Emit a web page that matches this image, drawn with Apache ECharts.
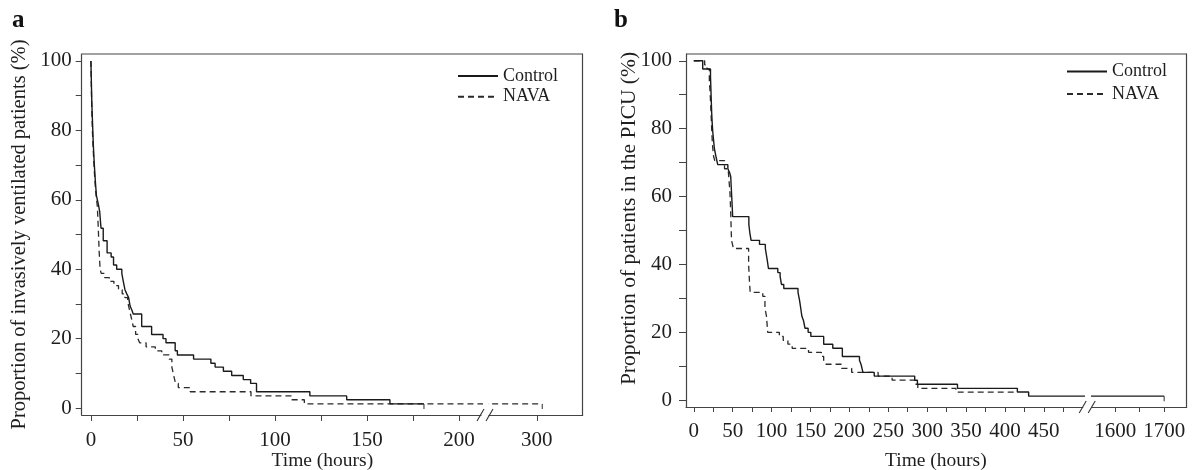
<!DOCTYPE html>
<html>
<head>
<meta charset="utf-8">
<script src="https://cdn.jsdelivr.net/npm/echarts@6/dist/echarts.min.js"></script>
<style>html,body{margin:0;padding:0;background:#fff}#c{width:1192px;height:470px}</style>
</head>
<body>
<div id="c"></div>
<script>
// ---------- data (hours, % remaining) ----------
const ctrlA_t = [0,0.5,0.9,1.3,1.8,2.5,3.0,4.0,4.8,5.5,6.7,8.8,11.0,12.3,14.0,16.8,17.6,18.5,19.5,20.5,21.3,22.3,23.0,27.6,33.0,39.2,40.8,45.8,47.0,55.8,65.2,67.5,72.0,76.5,82.8,86.8,90.0,119.0,139.0,162.5,181.0];
const ctrlA_v = [100,88,82,76,70.6,64.7,61.2,58.8,56.5,51.8,48.2,44.7,43.5,41.2,40.0,38.8,36.5,34.1,32.9,31.8,29.4,28.2,27.1,23.5,21.2,20.0,18.8,16.5,15.3,14.1,12.9,11.8,10.6,9.4,8.2,7.1,4.7,3.5,2.4,1.2,1.2];
const navaA_t = [0,0.4,0.8,1.3,2.0,2.6,3.5,4.0,4.5,5.0,5.6,7.5,10.0,12.5,15.0,17.0,18.5,20.0,21.0,22.0,23.0,24.3,25.5,26.5,30.0,35.0,38.5,42.5,44.0,45.0,46.0,47.5,54.0,87.0,109.0,116.0,303.0];
const navaA_v = [100,88,80,74,67,62.4,58,52,45,40,38.8,37.6,36.5,35.3,34.1,32.9,31.8,30.6,28.2,25.9,23.5,21.2,20.0,18.8,17.6,16.5,15.3,14.1,11.8,9.4,7.1,5.9,4.7,3.5,2.4,1.2,1.2];

const ctrlB_t = [0,11.5,21.5,22,22.5,23,23.8,24.5,25.5,26.5,28.5,30.8,43.8,46,47.5,48.5,49.3,50,70.8,72,73.7,84.5,92,94.5,96,108,111,112.7,115.7,134,136,137.5,139,141,143,147,150.5,167,178.7,191,213,215,217.5,232,284,287.5,339,416,430.5,1700];
const ctrlB_v = [100,97.6,95.3,91.8,88.2,84.7,81.2,78.8,76.5,74.1,71.8,69.4,68.2,67.1,65.9,61.2,57.6,54.1,51.8,49.4,47.1,45.9,44.7,41.2,38.8,37.6,36.5,34.1,32.9,31.8,29.4,27.1,24.7,23.5,21.2,20.0,18.8,16.5,15.3,12.9,11.8,10.6,8.2,7.1,5.9,4.7,3.5,2.4,1.2,1.2];
const navaB_t = [0,14,17,20,21,22,23,24,25.5,27,39.5,44.5,46.5,47.5,48.5,51,70.5,71.5,72.5,88.7,91.5,93.5,95,110,115,121,126.5,147.5,164,167,169,190,203,237,255,284,288,337,416];
const navaB_v = [100,98.8,97.6,94.1,90.6,85.9,80.0,75.3,71.8,70.6,68.2,67.1,61.2,55.3,47.1,44.7,40.0,35.3,31.8,30.6,27.1,24.7,20.0,18.8,17.6,16.5,15.3,14.1,12.9,11.8,10.6,9.4,8.2,7.1,5.9,4.7,3.5,2.4,2.4];

// ---------- tick labels ----------
const yLabels = [0,20,40,60,80,100];
const yTicks = [0,10,20,30,40,50,60,70,80,90,100];
const xLabelsA1 = [0,50,100,150,200];
const xTicksA1 = [0,25,50,75,100,125,150,175,200];
const xLabelsA2 = [300];
const xTicksA2 = [300];
const xLabelsB1 = [0,50,100,150,200,250,300,350,400,450];
const xTicksB1 = [0,25,50,75,100,125,150,175,200,225,250,275,300,325,350,375,400,425,450,475];
const xLabelsB2 = [1600,1700];
const xTicksB2 = [1600,1650,1700];

// ---------- layout ----------
const FONT = '"Liberation Serif","Times New Roman",serif';
const TXT = '#1e1e1e';
const AX = '#444';
const A = {x1L:81.7, x1R:481, x2L:489, x2R:582.7, top:54, bottom:415, r1:[-5,212], r2:[274,325], lm:15, ng:36};
const B = {x1L:686, x1R:1082.7, x2L:1091.7, x2R:1186.7, top:54, bottom:407, r1:[-10,500], r2:[1552,1746], lm:14, ng:44};
const Y_RANGE = [-2,102];

const zip = (t, v) => t.map((x, i) => [x, v[i]]);
const last = (t, v) => [t[t.length - 1], v[v.length - 1]];
const plain = v => String(v);

function grid(P, seg) {
  const l = seg === 1 ? P.x1L : P.x2L, r = seg === 1 ? P.x1R : P.x2R;
  return {left: l, top: P.top, width: r - l, height: P.bottom - P.top, show: false,
    containLabel: false, outerBoundsMode: 'none'};
}
function xAxis(gi, range, ticks, labels, tickLen, margin, extra) {
  return Object.assign({
    type: 'value', gridIndex: gi, position: 'bottom', min: range[0], max: range[1],
    axisLine: {show: true, onZero: false, lineStyle: {color: AX, width: 1.2}},
    axisTick: {show: true, inside: false, length: tickLen, customValues: ticks, lineStyle: {color: AX, width: 1}},
    axisLabel: {show: true, customValues: labels, formatter: plain, margin: margin, hideOverlap: false,
      fontFamily: FONT, fontSize: 21, color: TXT, verticalAlign: 'top'},
    splitLine: {show: false}
  }, extra || {});
}
function yAxisMain(gi, tickLen, margin, extra) {
  return Object.assign({
    type: 'value', gridIndex: gi, position: 'left', min: Y_RANGE[0], max: Y_RANGE[1],
    axisLine: {show: true, onZero: false, lineStyle: {color: AX, width: 1.2}},
    axisTick: {show: true, inside: false, length: tickLen, customValues: yTicks, lineStyle: {color: AX, width: 1}},
    axisLabel: {show: true, customValues: yLabels, formatter: plain, margin: margin, fontFamily: FONT, fontSize: 21, color: TXT},
    splitLine: {show: false}
  }, extra || {});
}
function yAxisRight(gi) {
  return {
    type: 'value', gridIndex: gi, position: 'right', min: Y_RANGE[0], max: Y_RANGE[1],
    axisLine: {show: true, onZero: false, lineStyle: {color: AX, width: 1.2}},
    axisTick: {show: false}, axisLabel: {show: false}, splitLine: {show: false}
  };
}
function lines(name, data, idx, dashed) {
  const col = dashed ? '#2a2a2a' : '#1a1a1a';
  return {
    name: name, type: 'line', step: 'end', data: data, xAxisIndex: idx, yAxisIndex: idx,
    symbol: 'none', showSymbol: false, clip: true, silent: true, z: dashed ? 2 : 3,
    itemStyle: {color: col},
    lineStyle: dashed ? {color: col, width: 1.3, type: [6, 4]} : {color: col, width: 1.4, type: 'solid'}
  };
}
function censor(points, idx) {
  return {
    name: 'censored', type: 'scatter', data: points, xAxisIndex: idx, yAxisIndex: idx, clip: true, silent: true,
    symbol: 'rect', symbolSize: [1.2, 5], symbolOffset: [0, 2.5], itemStyle: {color: '#222'}, z: 4
  };
}
function breakMarks(P) {
  const cx = (P.x1R + P.x2L) / 2, y = P.bottom, out = [];
  [-4.5, 4.5].forEach(d => {
    out.push({type: 'line', silent: true, z: 10,
      shape: {x1: cx + d - 3.5, y1: y + 6, x2: cx + d + 3.5, y2: y - 6},
      style: {stroke: '#333', lineWidth: 1.1}});
  });
  out.push({type: 'line', silent: true, z: 10,
    shape: {x1: P.x1L, y1: P.top, x2: P.x2R, y2: P.top},
    style: {stroke: AX, lineWidth: 1.2}});
  return out;
}
const legendBase = {
  orient: 'vertical', itemWidth: 40, itemHeight: 14, padding: 0,
  data: ['Control', 'NAVA'], selectedMode: false,
  itemStyle: {opacity: 0},
  textStyle: {fontFamily: FONT, fontSize: 18, lineHeight: 18, color: TXT}
};

const chart = echarts.init(document.getElementById('c'), null, {renderer: 'canvas'});
chart.setOption({
  animation: false,
  backgroundColor: '#fff',
  title: [
    {text: 'a', left: 12, top: 8, padding: 0, textStyle: {fontFamily: FONT, fontWeight: 'bold', fontSize: 25, color: '#111'}},
    {text: 'b', left: 614, top: 8, padding: 0, textStyle: {fontFamily: FONT, fontWeight: 'bold', fontSize: 25, color: '#111'}}
  ],
  legend: [
    Object.assign({}, legendBase, {left: 457, top: 67, itemGap: 2.7}),
    Object.assign({}, legendBase, {left: 1066, top: 62.5, itemGap: 4.6})
  ],
  grid: [grid(A, 1), grid(A, 2), grid(B, 1), grid(B, 2)],
  xAxis: [
    xAxis(0, A.r1, xTicksA1, xLabelsA1, 6, A.lm, {name: 'Time (hours)', nameLocation: 'middle', nameGap: A.ng,
      nameMoveOverlap: false,
      nameTextStyle: {fontFamily: FONT, fontSize: 19.5, color: TXT, padding: [0, 0, 0, 82]}}),
    xAxis(1, A.r2, xTicksA2, xLabelsA2, 6, A.lm),
    xAxis(2, B.r1, xTicksB1, xLabelsB1, 5, B.lm, {name: 'Time (hours)', nameLocation: 'middle', nameGap: B.ng,
      nameMoveOverlap: false,
      nameTextStyle: {fontFamily: FONT, fontSize: 19.5, color: TXT, padding: [0, 0, 0, 103]}}),
    xAxis(3, B.r2, xTicksB2, xLabelsB2, 5, B.lm)
  ],
  yAxis: [
    yAxisMain(0, 6, 10, {name: 'Proportion of invasively ventilated patients (%)', nameLocation: 'middle', nameGap: 52,
      nameMoveOverlap: false,
      nameTextStyle: {fontFamily: FONT, fontSize: 20.5, color: TXT}}),
    yAxisRight(1),
    yAxisMain(2, 7, 14, {name: 'Proportion of patients in the PICU (%)', nameLocation: 'middle', nameGap: 46,
      nameMoveOverlap: false,
      nameTextStyle: {fontFamily: FONT, fontSize: 21.5, color: TXT, padding: [0, 0, 0, 24]}}),
    yAxisRight(3)
  ],
  series: [
    lines('NAVA', zip(navaA_t, navaA_v), 0, true),
    lines('NAVA', zip(navaA_t, navaA_v), 1, true),
    lines('Control', zip(ctrlA_t, ctrlA_v), 0, false),
    lines('Control', zip(ctrlA_t, ctrlA_v), 1, false),
    censor([last(ctrlA_t, ctrlA_v), last(navaA_t, navaA_v)], 0),
    censor([last(ctrlA_t, ctrlA_v), last(navaA_t, navaA_v)], 1),
    lines('NAVA', zip(navaB_t, navaB_v), 2, true),
    lines('NAVA', zip(navaB_t, navaB_v), 3, true),
    lines('Control', zip(ctrlB_t, ctrlB_v), 2, false),
    lines('Control', zip(ctrlB_t, ctrlB_v), 3, false),
    censor([last(ctrlB_t, ctrlB_v)], 3)
  ],
  graphic: breakMarks(A).concat(breakMarks(B))
});
</script>
</body>
</html>
